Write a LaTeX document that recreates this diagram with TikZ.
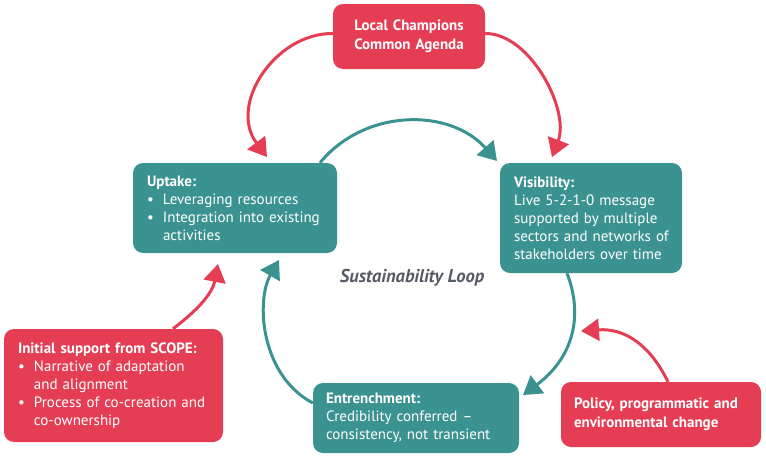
\documentclass[tikz,border=0pt]{standalone}
\usepackage{fontspec}
\setmainfont{PT Sans}
\usetikzlibrary{arrows.meta}
\definecolor{tealc}{HTML}{3B9391}
\definecolor{redc}{HTML}{E43D54}
\definecolor{loopgray}{HTML}{555B63}
\newcommand\bul{\makebox[16pt][l]{\textbullet}}
\newcommand\ind{\hspace*{16pt}}
\newcommand\mline[1]{\mbox{#1}}
\begin{document}
\begin{tikzpicture}[x=1pt,y=-1pt,
  box/.style={rounded corners=10pt, text=white, inner xsep=14pt, inner ysep=4pt, align=left,
    font=\fontsize{15}{18}\selectfont},
  tbox/.style={box, fill=tealc},
  rbox/.style={box, fill=redc},
  tarrow/.style={draw=tealc, line width=3pt, -{Triangle[length=18pt,width=22pt]}},
  rarrow/.style={draw=redc, line width=3pt, -{Triangle[length=18pt,width=22pt]}}]
\useasboundingbox (0,0) rectangle (766,458);

\node[rbox, align=center, minimum width=152pt, minimum height=65pt, text width=124pt,
  font=\fontsize{15}{19}\selectfont\bfseries] (lc) at (409,36.5) {Local Champions\\Common Agenda};

\node[tbox, minimum width=204pt, minimum height=90pt, text width=176pt] (up) at (235,208)
  {\mline{\textbf{Uptake:}}\\\mline{\bul Leveraging resources}\\\mline{\bul Integration into existing}\\\mline{\ind activities}};

\node[tbox, minimum width=182pt, minimum height=110pt, text width=154pt] (vis) at (591,218)
  {\mline{\textbf{Visibility:}}\\\mline{Live 5-2-1-0 message}\\\mline{supported by multiple}\\\mline{sectors and networks of}\\\mline{stakeholders over time}};

\node[tbox, minimum width=206pt, minimum height=70pt, text width=180pt, inner xsep=13pt] (ent) at (416,418)
  {\mline{\textbf{Entrenchment:}}\\\mline{Credibility conferred –}\\\mline{consistency, not transient}};

\node[rbox, minimum width=219pt, minimum height=113pt, text width=191pt] (ini) at (113.5,385.5)
  {\mline{\textbf{Initial support from SCOPE:}}\\\mline{\bul Narrative of adaptation}\\\mline{\ind and alignment}\\\mline{\bul Process of co-creation and}\\\mline{\ind co-ownership}};

\node[rbox, minimum width=200pt, minimum height=65pt, text width=174pt, inner xsep=13pt,
  font=\fontsize{15}{19}\selectfont\bfseries] (pol) at (661,414.5)
  {\mline{Policy, programmatic and}\\\mline{environmental change}};

\node[text=loopgray, font=\fontsize{18.5}{21}\selectfont\bfseries\itshape] (loop) at (412,278) {Sustainability Loop};

\coordinate (t1) at (267,157);
\coordinate (t2) at (552,157);
\coordinate (t3) at (497,161);
\coordinate (t4) at (523,395);
\coordinate (t5) at (279,260);
\coordinate (t6) at (581,331);
\coordinate (t7) at (218,264);

\draw[rarrow] ([yshift=3pt]lc.west) .. controls (275,33) and (228,105) .. (t1);
\draw[rarrow] ([yshift=3pt]lc.east) .. controls (530,33) and (570,110) .. (t2);
\draw[tarrow] ([xshift=85pt]up.north) .. controls (365,108) and (450,108) .. (t3);
\draw[tarrow] ([xshift=-24pt]vis.south) .. controls (585,320) and (570,360) .. (t4);
\draw[tarrow] ([yshift=15pt]ent.west) .. controls (260,375) and (256,300) .. (t5);
\draw[rarrow] ([xshift=7pt]pol.north) .. controls (650,345) and (625,328) .. (t6);
\draw[rarrow] ([xshift=59.5pt]ini.north) .. controls (195,312) and (212,295) .. (t7);
\end{tikzpicture}
\end{document}
